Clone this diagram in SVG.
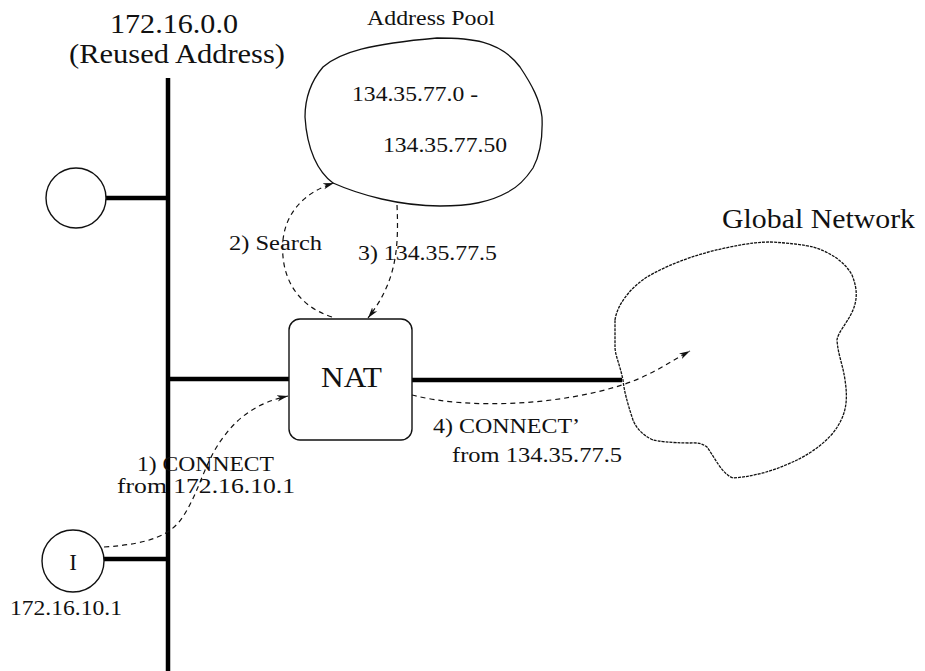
<svg xmlns="http://www.w3.org/2000/svg" width="925" height="671" viewBox="0 0 925 671">
<style>
text{font-family:"Liberation Serif","Times New Roman",serif;fill:#111;}
.bus{stroke:#000;stroke-width:4.5;fill:none;stroke-linecap:butt;}
.thin{stroke:#111;stroke-width:1.4;fill:#fff;}
.cloud{stroke:#111;stroke-width:1.3;fill:none;}
.dash{stroke:#111;stroke-width:1.2;fill:none;stroke-dasharray:5 4;}
</style>
<defs>
<marker id="arr" markerWidth="12" markerHeight="8" refX="11" refY="4" orient="auto" markerUnits="userSpaceOnUse">
<path d="M0,0.8 L11,4 L0,7.2 L3,4 Z" fill="#111"/>
</marker>
</defs>
<rect width="925" height="671" fill="#fff"/>

<g id="reused-network">
<line class="bus" x1="168" y1="78" x2="168" y2="671"/>
<text x="110" y="33" font-size="27" textLength="128" lengthAdjust="spacingAndGlyphs">172.16.0.0</text>
<text x="69" y="63" font-size="27" textLength="216" lengthAdjust="spacingAndGlyphs">(Reused Address)</text>
</g>

<g id="host-top">
<line class="bus" x1="105" y1="198" x2="168" y2="198"/>
<circle class="thin" cx="76" cy="198" r="30"/>
</g>

<g id="host-i">
<line class="bus" x1="104" y1="559" x2="168" y2="559"/>
<circle class="thin" cx="73" cy="561" r="31"/>
<text x="73" y="570" font-size="23" text-anchor="middle">I</text>
<text x="10" y="615" font-size="21" textLength="112" lengthAdjust="spacingAndGlyphs">172.16.10.1</text>
</g>

<g id="address-pool">
<path class="cloud" d="M305,117 C305,95 312,80 323,67 C340,52 370,44 437,38 C470,38 500,40 520,67 C532,85 540,100 542,117 C543,140 540,155 533,168 C525,180 518,187 508,192 C490,202 470,206 440,206 C400,206 360,195 333,183 C318,172 307,150 305,117 Z"/>
<text x="367" y="25" font-size="22" textLength="128" lengthAdjust="spacingAndGlyphs">Address Pool</text>
<text x="352" y="101" font-size="21" textLength="126" lengthAdjust="spacingAndGlyphs">134.35.77.0 -</text>
<text x="383" y="152" font-size="21" textLength="124" lengthAdjust="spacingAndGlyphs">134.35.77.50</text>
</g>

<g id="nat">
<line class="bus" x1="168" y1="379" x2="289" y2="379"/>
<line class="bus" x1="412" y1="380" x2="622" y2="380"/>
<rect class="thin" x="289" y="319" width="123" height="121" rx="11" ry="11"/>
<text x="321" y="387" font-size="30" textLength="61" lengthAdjust="spacingAndGlyphs">NAT</text>
</g>

<g id="global-network">
<path class="cloud" stroke-dasharray="3 1" d="M615,320 C617,305 630,288 647,277 C662,268 690,255 730,247 C750,243 760,242 770,242 C790,243 805,245 813,247 C830,252 845,262 852,275 C858,290 857,300 853,310 C848,322 838,332 837,340 C838,355 843,365 845,380 C848,400 847,415 833,433 C820,448 805,456 797,460 C780,468 760,476 733,478 C722,474 715,458 707,447 C700,442 695,443 690,443 C670,443 658,441 653,440 C640,434 635,425 633,420 C627,402 624,390 623,380 C620,365 615,355 615,347 Z"/>
<text x="722" y="228" font-size="28" textLength="193" lengthAdjust="spacingAndGlyphs">Global Network</text>
</g>

<g id="connectors">
<path class="dash" marker-end="url(#arr)" d="M104,547 C150,544 172,535 184,515 C200,490 205,460 225,435 C240,415 260,402 288,396"/>
<path class="dash" marker-end="url(#arr)" d="M332,317 C295,305 280,275 283,240 C286,212 305,192 334,183"/>
<path class="dash" marker-end="url(#arr)" d="M397,205 C399,250 396,282 368,318"/>
<path class="dash" marker-end="url(#arr)" d="M412,395 C470,410 560,405 622,385 C650,376 668,363 690,351"/>
<text x="229" y="250" font-size="20" textLength="93" lengthAdjust="spacingAndGlyphs">2) Search</text>
<text x="358" y="260" font-size="21" textLength="139" lengthAdjust="spacingAndGlyphs">3) 134.35.77.5</text>
<text x="433" y="433" font-size="21" textLength="147" lengthAdjust="spacingAndGlyphs">4) CONNECT’</text>
<text x="452" y="462" font-size="21" textLength="170" lengthAdjust="spacingAndGlyphs">from 134.35.77.5</text>
<text x="137" y="471" font-size="21" textLength="137" lengthAdjust="spacingAndGlyphs">1) CONNECT</text>
<text x="117" y="493" font-size="21" textLength="178" lengthAdjust="spacingAndGlyphs">from 172.16.10.1</text>
</g>
</svg>
